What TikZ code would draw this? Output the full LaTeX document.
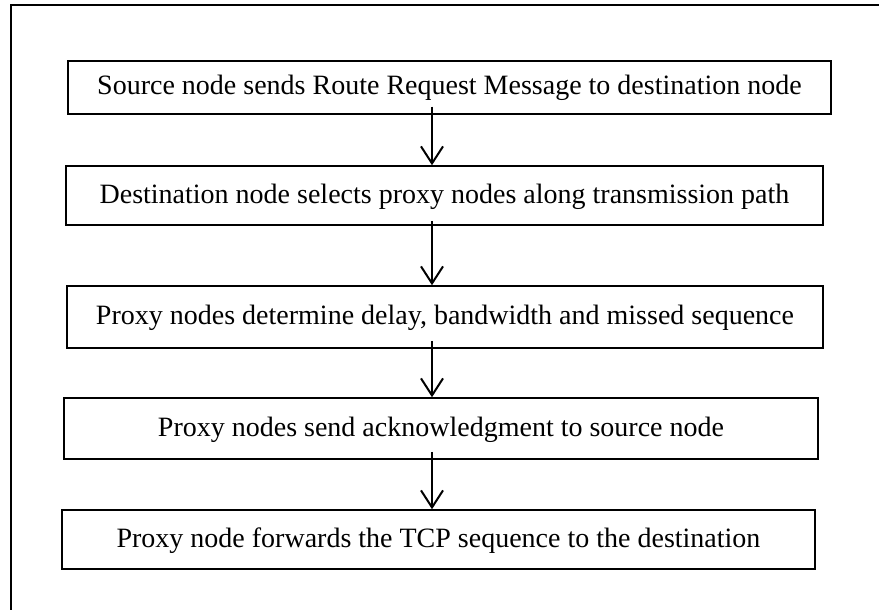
\documentclass[tikz,border=0pt]{standalone}
\usepackage{fontspec}
\setmainfont{Liberation Serif}
\usetikzlibrary{arrows.meta,calc}

\tikzset{
  stepbox/.style={draw, line width=1.5pt, rectangle, inner sep=0pt,
    text height=19pt, text depth=4pt,
    font=\fontsize{28}{34}\selectfont},
  flow/.style={line width=2pt, -{Straight Barb[length=17pt,width=22pt]}},
  frameline/.style={line width=1.5pt}
}

\begin{document}
\begin{tikzpicture}[x=1pt,y=-1pt]
  \useasboundingbox (0,0) rectangle (879,610);

  % open frame round the flow
  \draw[frameline] (11,610) -- (11,5) -- (879,5);

  % process steps
  \node[stepbox, minimum width=763pt, minimum height=53pt] (b1) at (449.5,87.5)
    {Source node sends Route Request Message to destination node};
  \node[stepbox, minimum width=757pt, minimum height=59pt] (b2) at (444.5,195.5)
    {Destination node selects proxy nodes along transmission path};
  \node[stepbox, minimum width=756pt, minimum height=62pt] (b3) at (445,317)
    {Proxy nodes determine delay, bandwidth and missed sequence};
  \node[stepbox, minimum width=754pt, minimum height=61pt] (b4) at (441,428.5)
    {Proxy nodes send acknowledgment to source node};
  \node[stepbox, minimum width=753pt, minimum height=59pt] (b5) at (438.5,539.5)
    {Proxy node forwards the TCP sequence to the destination};

  % arrows run down one common column
  \coordinate (col) at (432,0);
  \draw[flow] ($(b1.south -| col)+(0,-8)$) -- (b2.north -| col);
  \draw[flow] ($(b2.south -| col)+(0,-5)$) -- (b3.north -| col);
  \draw[flow] ($(b3.south -| col)+(0,-8)$) -- (b4.north -| col);
  \draw[flow] ($(b4.south -| col)+(0,-8)$) -- (b5.north -| col);
\end{tikzpicture}
\end{document}
